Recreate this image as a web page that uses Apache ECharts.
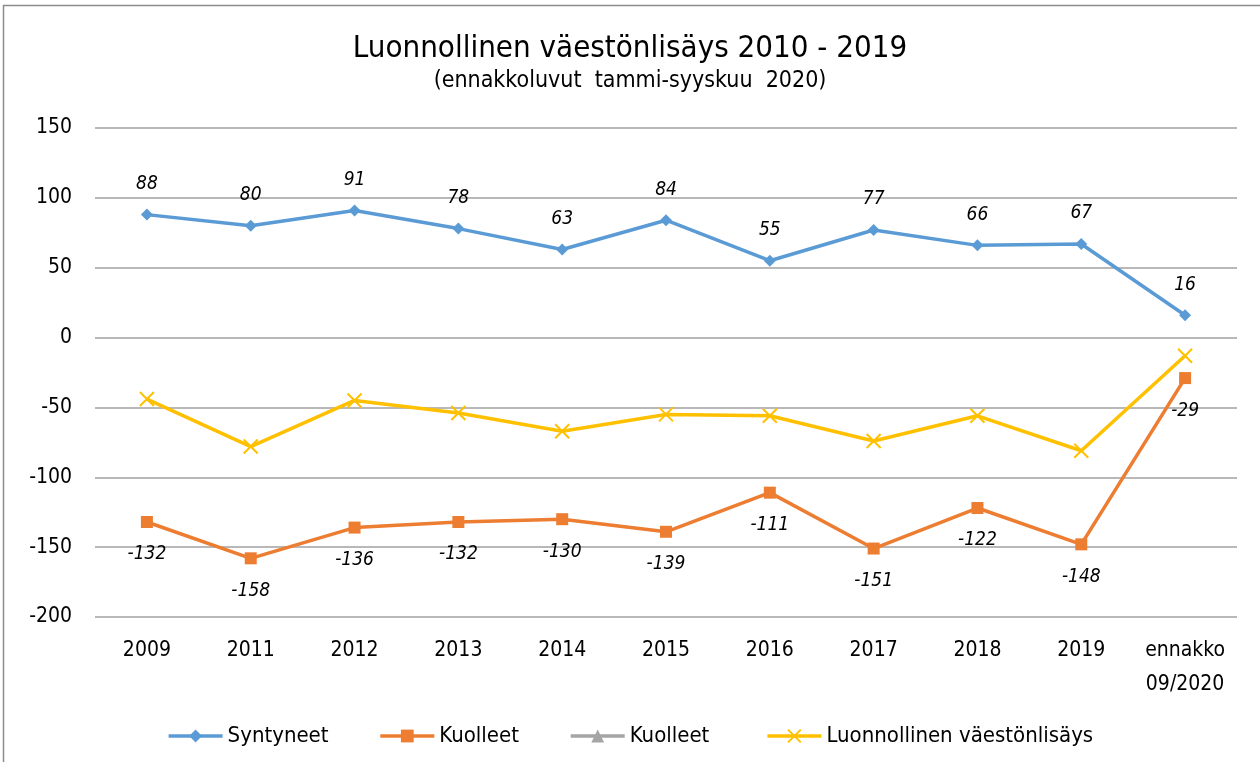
<!DOCTYPE html>
<html lang="fi">
<head>
    <meta charset="UTF-8">
    <title>Luonnollinen väestönlisäys</title>
    <script src="https://cdn.jsdelivr.net/npm/echarts@6/dist/echarts.min.js"></script>
    <style>
        html, body { margin: 0; padding: 0; background: #fff; }
        #main { width: 1260px; height: 762px; }
    </style>
</head>
<body>
<div id="main"></div>
<script>
    // data
    let years = ['2009', '2011', '2012', '2013', '2014', '2015', '2016', '2017', '2018', '2019', 'ennakko\n09/2020'];
    let syntyneet = [88, 80, 91, 78, 63, 84, 55, 77, 66, 67, 16];
    let kuolleet = [-132, -158, -136, -132, -130, -139, -111, -151, -122, -148, -29];
    let kuolleet2 = [];
    let lisays = [-44, -78, -45, -54, -67, -55, -56, -74, -56, -81, -13];

    let font = '"DejaVu Sans Condensed", sans-serif';
    let xMark = 'path://M0,0L10,10M10,0L0,10';

    let myChart = echarts.init(document.getElementById('main'));

    let option = {
        animation: false,
        textStyle: {fontFamily: font},
        graphic: [{
            type: 'rect',
            shape: {x: 3.5, y: 5.5, width: 1270, height: 770},
            style: {fill: 'none', stroke: '#8c8c8c', lineWidth: 1.5},
            silent: true
        }],
        title: {
            text: 'Luonnollinen väestönlisäys 2010 - 2019',
            subtext: '(ennakkoluvut  tammi-syyskuu  2020)',
            left: 'center',
            top: 28,
            itemGap: 6,
            textStyle: {fontFamily: font, fontSize: 31, fontWeight: 'normal', color: '#000'},
            subtextStyle: {fontFamily: font, fontSize: 23, color: '#000'}
        },
        legend: {
            bottom: 10,
            left: 'center',
            itemWidth: 54,
            itemHeight: 16,
            itemGap: 50,
            lineStyle: {width: 3.5},
            textStyle: {fontFamily: font, fontSize: 22, color: '#000'},
            data: ['Syntyneet', 'Kuolleet', 'Kuolleet ', 'Luonnollinen väestönlisäys']
        },
        grid: {left: 95, right: 23, top: 128, bottom: 145},
        xAxis: {
            type: 'category',
            data: years,
            axisLine: {show: false},
            axisTick: {show: false},
            axisLabel: {
                color: '#000',
                fontSize: 21,
                margin: 17,
                lineHeight: 34,
                interval: 0
            }
        },
        yAxis: {
            type: 'value',
            min: -200,
            max: 150,
            interval: 50,
            axisLine: {show: false},
            axisTick: {show: false},
            axisLabel: {color: '#000', fontSize: 21, margin: 23},
            splitLine: {lineStyle: {color: '#a0a0a0', width: 1.5}}
        },
        series: [
            {
                name: 'Syntyneet',
                type: 'line',
                data: syntyneet,
                symbol: 'diamond',
                symbolSize: 12,
                lineStyle: {width: 3.5, color: '#5B9BD5'},
                itemStyle: {color: '#5B9BD5'},
                label: {
                    show: true,
                    position: 'top',
                    distance: 15,
                    fontStyle: 'italic',
                    fontSize: 19,
                    color: '#000'
                }
            },
            {
                name: 'Kuolleet',
                type: 'line',
                data: kuolleet,
                symbol: 'rect',
                symbolSize: 12,
                lineStyle: {width: 3.5, color: '#ED7D31'},
                itemStyle: {color: '#ED7D31'},
                label: {
                    show: true,
                    position: 'bottom',
                    distance: 17,
                    fontStyle: 'italic',
                    fontSize: 19,
                    color: '#000'
                }
            },
            {
                name: 'Kuolleet ',
                type: 'line',
                data: kuolleet2,
                symbol: 'triangle',
                symbolSize: 12,
                lineStyle: {width: 3.5, color: '#A5A5A5'},
                itemStyle: {color: '#A5A5A5'}
            },
            {
                name: 'Luonnollinen väestönlisäys',
                type: 'line',
                data: lisays,
                symbol: xMark,
                symbolSize: 14,
                lineStyle: {width: 3.5, color: '#FFC000'},
                itemStyle: {color: '#FFC000', borderColor: '#FFC000', borderWidth: 2}
            }
        ]
    };

    myChart.setOption(option);
</script>
</body>
</html>
